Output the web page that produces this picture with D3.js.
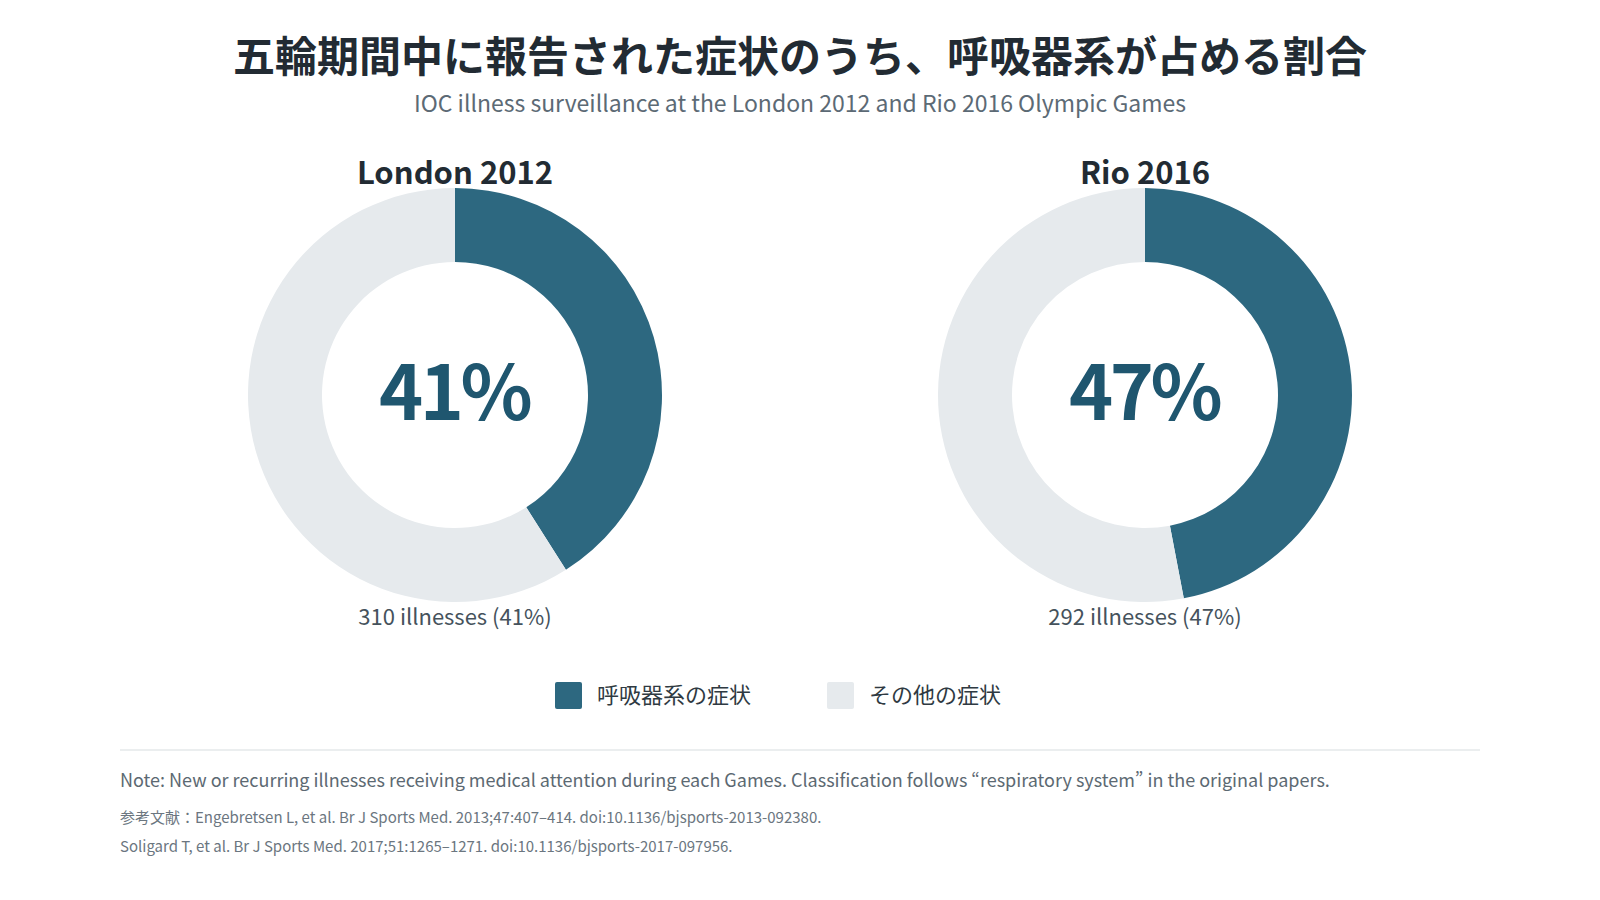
<!DOCTYPE html>
<html lang="ja">
<head>
<meta charset="utf-8">
<script src="https://cdn.jsdelivr.net/npm/d3@7"></script>
<style>
  html, body { margin: 0; padding: 0; background: #ffffff; }
  svg { display: block; font-family: "Noto Sans CJK JP", "Noto Sans", sans-serif; }
</style>
</head>
<body>
<svg id="chart" width="1600" height="900"></svg>
<script>
// ---- data ----
const games = ["London 2012", "Rio 2016"];
const respiratoryCounts = [310, 292];
const respiratoryShare = [41, 47];          // percent of reported illnesses
const otherShare = [59, 53];
const categories = ["呼吸器系の症状", "その他の症状"];
const titleText = "五輪期間中に報告された症状のうち、呼吸器系が占める割合";
const subtitleText = "IOC illness surveillance at the London 2012 and Rio 2016 Olympic Games";
const noteText = "Note: New or recurring illnesses receiving medical attention during each Games. Classification follows \u201crespiratory system\u201d in the original papers.";
const refLines = [
  "参考文献：Engebretsen L, et al. Br J Sports Med. 2013;47:407\u2013414. doi:10.1136/bjsports-2013-092380.",
  "Soligard T, et al. Br J Sports Med. 2017;51:1265\u20131271. doi:10.1136/bjsports-2017-097956."
];

// ---- styles ----
const W = 1600, H = 900;
const colorScale = d3.scaleOrdinal().domain(categories).range(["#2d6880", "#e6eaed"]);
const svg = d3.select("#chart");

svg.append("text")
  .attr("x", W / 2).attr("y", 72)
  .attr("text-anchor", "middle")
  .attr("font-size", 42).attr("font-weight", 700)
  .attr("fill", "#222b33")
  .text(titleText);

svg.append("text")
  .attr("x", W / 2).attr("y", 112)
  .attr("text-anchor", "middle")
  .attr("font-size", 23)
  .attr("fill", "#5c6a75")
  .text(subtitleText);

const xScale = d3.scalePoint().domain(games).range([455, 1145]);
const cy = 395;
const outerR = 207, innerR = 133;

const pie = d3.pie().sort(null).value(d => d.value);
const arc = d3.arc().innerRadius(innerR).outerRadius(outerR);

games.forEach((g, i) => {
  const cx = xScale(g);
  const grp = svg.append("g").attr("transform", `translate(${cx},${cy})`);
  const slices = [
    { key: categories[0], value: respiratoryShare[i] },
    { key: categories[1], value: otherShare[i] }
  ];
  grp.selectAll("path")
    .data(pie(slices))
    .join("path")
    .attr("d", arc)
    .attr("fill", d => colorScale(d.data.key));

  grp.append("text")
    .attr("x", -1).attr("y", 25)
    .attr("text-anchor", "middle")
    .attr("font-size", 75).attr("font-weight", 700)
    .attr("letter-spacing", -3.5)
    .attr("fill", "#1f566f")
    .text(respiratoryShare[i] + "%");

  svg.append("text")
    .attr("x", cx).attr("y", 184)
    .attr("text-anchor", "middle")
    .attr("font-size", 31).attr("font-weight", 700)
    .attr("fill", "#222b33")
    .text(g);

  svg.append("text")
    .attr("x", cx).attr("y", 625)
    .attr("text-anchor", "middle")
    .attr("font-size", 22)
    .attr("fill", "#45525c")
    .text(`${respiratoryCounts[i]} illnesses (${respiratoryShare[i]}%)`);
});

// ---- legend ----
const legendX = d3.scalePoint().domain(categories).range([555, 827]);
const legend = svg.append("g");
categories.forEach(c => {
  const lx = legendX(c);
  legend.append("rect")
    .attr("x", lx).attr("y", 682)
    .attr("width", 27).attr("height", 27)
    .attr("rx", 2)
    .attr("fill", colorScale(c));
  legend.append("text")
    .attr("x", lx + 42).attr("y", 703)
    .attr("font-size", 22)
    .attr("fill", "#2f3a42")
    .text(c);
});

// ---- footer ----
svg.append("line")
  .attr("x1", 120).attr("x2", 1480)
  .attr("y1", 750).attr("y2", 750)
  .attr("stroke", "#e5e8ea").attr("stroke-width", 1.5);

svg.append("text")
  .attr("x", 120).attr("y", 787)
  .attr("font-size", 18)
  .attr("fill", "#5c6972")
  .text(noteText);

refLines.forEach((t, i) => {
  svg.append("text")
    .attr("x", 120).attr("y", 823 + i * 28.5)
    .attr("font-size", 15)
    .attr("fill", "#6b7680")
    .text(t);
});
</script>
</body>
</html>
